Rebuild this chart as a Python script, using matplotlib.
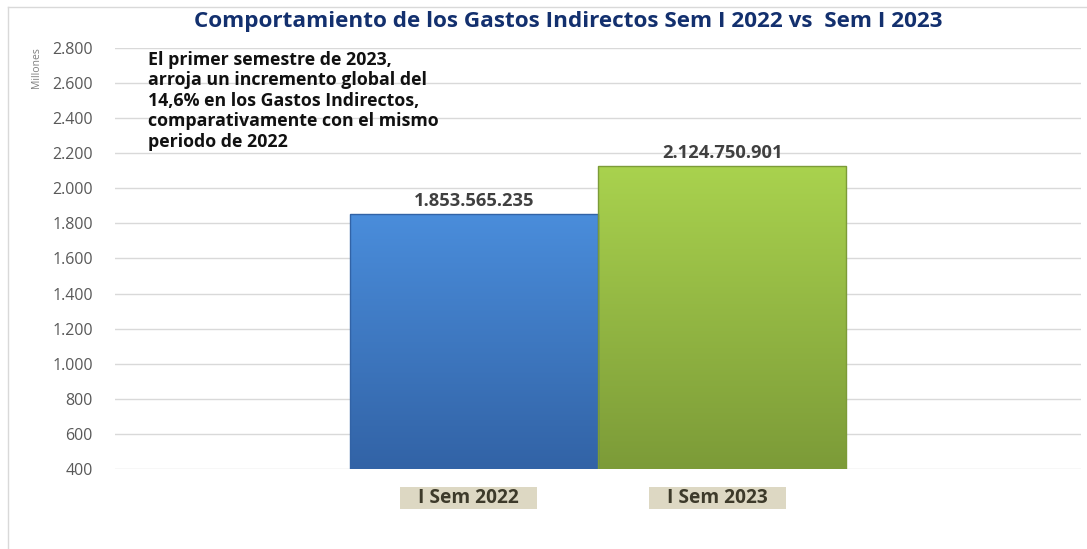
import numpy as np
import matplotlib.pyplot as plt
from matplotlib.colors import LinearSegmentedColormap
from matplotlib.lines import Line2D
from matplotlib.patches import Rectangle

# datos (millones de pesos)
categorias = ["I Sem 2022", "I Sem 2023"]
valores = [1853.565235, 2124.750901]
etiquetas = ["1.853.565.235", "2.124.750.901"]
yticks = [400, 600, 800, 1000, 1200, 1400, 1600, 1800, 2000, 2200, 2400, 2600, 2800]
ytick_labels = ["400", "600", "800", "1.000", "1.200", "1.400", "1.600", "1.800",
                "2.000", "2.200", "2.400", "2.600", "2.800"]

titulo = "Comportamiento de los Gastos Indirectos Sem I 2022 vs  Sem I 2023"
nota = ("El primer semestre de 2023,\n"
        "arroja un incremento global del\n"
        "14,6% en los Gastos Indirectos,\n"
        "comparativamente con el mismo\n"
        "periodo de 2022")

# degradados (arriba claro -> abajo oscuro)
gradientes = [("#4a8ddb", "#3263a6"), ("#a9d24e", "#7c9b38")]

plt.rcParams['font.family'] = ['Open Sans', 'DejaVu Sans']

W, H = 1087, 549
fig = plt.figure(figsize=(W / 100, H / 100), dpi=100)
ax = fig.add_axes([115 / W, 1 - 469 / H, (1081 - 115) / W, (469 - 48) / H])

x = np.arange(len(categorias))
ax.set_xlim(-1.444, 2.444)
ax.set_ylim(400, 2800)

for xi, v, (c_top, c_bot), lab in zip(x, valores, gradientes, etiquetas):
    cmap = LinearSegmentedColormap.from_list("g", [c_bot, c_top])
    grad = np.linspace(0, 1, 256).reshape(-1, 1)
    ax.imshow(grad, cmap=cmap, origin="lower", aspect="auto",
              extent=(xi - 0.5, xi + 0.5, 400, v), zorder=2)
    ax.bar(xi, v - 400, bottom=400, width=1.0, facecolor="none",
           edgecolor=c_bot, linewidth=1.0, zorder=3)
    ax.text(xi, v + 25, lab, ha="center", va="bottom", fontsize=13.2,
            fontweight="bold", color="#404040", zorder=4)

ax.set_yticks(yticks)
ax.set_yticklabels(ytick_labels, fontsize=11.5, color="#595959")
ax.tick_params(axis="y", length=0, pad=16)
ax.set_xticks([])
ax.grid(axis="y", color="#d9d9d9", linewidth=1.0, zorder=0)
ax.set_axisbelow(True)
for s in ax.spines.values():
    s.set_visible(False)

# etiquetas de categoria en recuadros (debajo del eje)
box_w, box_top, box_bot = 0.55, 297, 172
for xi, cat in zip(x, categorias):
    cx = xi - 0.02
    ax.add_patch(Rectangle((cx - box_w / 2, box_bot), box_w, box_top - box_bot,
                           facecolor="#ddd8c3", edgecolor="none", clip_on=False,
                           zorder=1))
    ax.text(cx, (box_top + box_bot) / 2, cat, ha="center", va="center",
            fontsize=13.8, fontweight="bold", color="#3d3a2a", clip_on=False,
            zorder=2)

fig.text(37 / W, 1 - 68 / H, "Millones", rotation=90, ha="center", va="center",
         fontsize=7.5, color="#808080")

fig.text(568 / W, 1 - 22 / H, titulo, ha="center", va="center", fontsize=16.2,
         fontweight="bold", color="#13306e")

fig.text(148 / W, 1 - 51 / H, nota, ha="left", va="top", fontsize=12.8,
         fontweight="bold", color="#111111", linespacing=1.17)

# marco del grafico
fig.add_artist(Line2D([8 / W, 1], [1 - 7 / H, 1 - 7 / H], color="#d9d9d9",
                      linewidth=1, transform=fig.transFigure))
fig.add_artist(Line2D([8 / W, 8 / W], [0, 1 - 7 / H], color="#d9d9d9",
                      linewidth=1, transform=fig.transFigure))

fig.savefig("out.png", dpi=100)
